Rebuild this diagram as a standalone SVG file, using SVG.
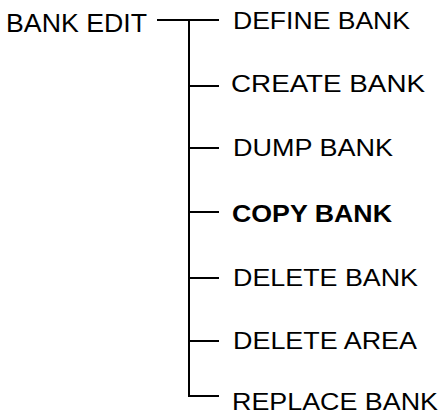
<svg xmlns="http://www.w3.org/2000/svg" width="445" height="418" viewBox="0 0 445 418">
<style>
text{font-family:"Liberation Sans",Arial,sans-serif;fill:#000}
.root{font-size:25px}
.item{font-size:23px}
.bold{font-weight:bold}
.conn line{stroke:#000;stroke-width:2;fill:none}
</style>
<rect width="445" height="418" fill="#fff"/>
<g id="connectors" class="conn">
<line x1="157" y1="20" x2="219" y2="20"/>
<line x1="189" y1="19" x2="189" y2="397"/>
<line x1="189" y1="86" x2="219" y2="86"/>
<line x1="189" y1="148" x2="219" y2="148"/>
<line x1="189" y1="212" x2="219" y2="212"/>
<line x1="189" y1="278" x2="219" y2="278"/>
<line x1="189" y1="341" x2="219" y2="341"/>
<line x1="188" y1="396" x2="219" y2="396"/>
</g>
<g id="bank-edit"><text class="root" x="6" y="32" textLength="141" lengthAdjust="spacingAndGlyphs">BANK EDIT</text></g>
<g id="define-bank"><text class="item" x="233" y="28.5" textLength="177" lengthAdjust="spacingAndGlyphs">DEFINE BANK</text></g>
<g id="create-bank"><text class="item" x="231" y="92" textLength="194" lengthAdjust="spacingAndGlyphs">CREATE BANK</text></g>
<g id="dump-bank"><text class="item" x="233" y="155.5" textLength="160" lengthAdjust="spacingAndGlyphs">DUMP BANK</text></g>
<g id="copy-bank"><text class="item bold" x="232" y="221.5" textLength="160" lengthAdjust="spacingAndGlyphs">COPY BANK</text></g>
<g id="delete-bank"><text class="item" x="233" y="285.5" textLength="185" lengthAdjust="spacingAndGlyphs">DELETE BANK</text></g>
<g id="delete-area"><text class="item" x="233" y="348.5" textLength="184" lengthAdjust="spacingAndGlyphs">DELETE AREA</text></g>
<g id="replace-bank"><text class="item" x="232" y="410" textLength="206" lengthAdjust="spacingAndGlyphs">REPLACE BANK</text></g>
</svg>
